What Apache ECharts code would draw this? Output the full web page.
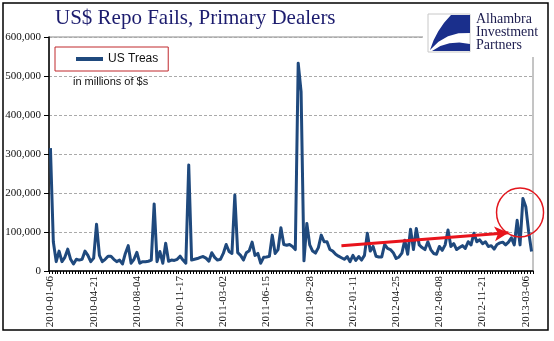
<!DOCTYPE html>
<html>
<head>
<meta charset="utf-8">
<script src="https://cdn.jsdelivr.net/npm/echarts@6/dist/echarts.min.js"></script>
<style>
html,body{margin:0;padding:0;background:#fff;}
#chart{width:554px;height:341px;}
</style>
</head>
<body>
<div id="chart"></div>
<script>
// Weekly observations starting 2010-01-06 (168 weeks)
const firstWeek = '2010-01-06';
const weekCount = 168;
const seriesName = 'US Treas';
const usTreas = [
  315000, 75000, 24000, 51000, 24000, 35000, 56000, 30000, 18000, 30000,
  28000, 30000, 51000, 40000, 24000, 33000, 120000, 40000, 24000, 30000,
  38000, 38000, 30000, 24000, 28000, 18000, 45000, 65000, 20000, 30000,
  48000, 20000, 24000, 24000, 25000, 28000, 172000, 24000, 50000, 20000,
  71000, 25000, 28000, 27000, 30000, 38000, 28000, 20000, 272000, 28000,
  30000, 32000, 35000, 37000, 33000, 25000, 47000, 35000, 28000, 30000,
  45000, 68000, 50000, 45000, 195000, 47000, 40000, 28000, 47000, 52000,
  74000, 40000, 45000, 20000, 35000, 36000, 38000, 92000, 45000, 55000,
  111000, 68000, 66000, 68000, 63000, 55000, 533000, 460000, 26000, 122000,
  67000, 51000, 46000, 60000, 92000, 75000, 75000, 55000, 51000, 43000,
  38000, 34000, 30000, 37000, 24000, 40000, 27000, 37000, 28000, 40000,
  97000, 51000, 63000, 38000, 36000, 36000, 68000, 58000, 55000, 47000,
  32000, 36000, 46000, 79000, 43000, 107000, 55000, 109000, 67000, 60000,
  55000, 75000, 55000, 45000, 43000, 63000, 53000, 67000, 105000, 63000,
  70000, 55000, 60000, 65000, 58000, 75000, 67000, 97000, 75000, 80000,
  70000, 75000, 63000, 65000, 56000, 68000, 72000, 74000, 67000, 74000,
  85000, 67000, 130000, 67000, 186000, 165000, 100000, 50000
];
const yTicks = [0, 100000, 200000, 300000, 400000, 500000, 600000];
const arrowFrom = ['2011-12-14', 65000];
const arrowTo = ['2013-01-23', 98000];
const circleAt = ['2013-02-20', 150000];

const categories = [];
(function(){
  const d0 = new Date(firstWeek + 'T00:00:00Z');
  for (let i = 0; i < weekCount; i++) {
    const d = new Date(d0.getTime() + i * 7 * 86400000);
    categories.push(d.toISOString().slice(0, 10));
  }
})();

const chart = echarts.init(document.getElementById('chart'), null, {renderer: 'canvas'});
const fmt = v => String(v).replace(/\B(?=(\d{3})+(?!\d))/g, ',');

chart.setOption({
  animation: false,
  backgroundColor: '#fff',
  title: {
    text: 'US$ Repo Fails, Primary Dealers',
    left: 50, top: 3,
    textStyle: {fontFamily: 'Liberation Serif', fontSize: 21, fontWeight: 'normal', color: '#1c1c6e'}
  },
  legend: {
    data: [seriesName],
    left: 55, top: 47,
    orient: 'horizontal',
    padding: [6, 10, 6, 21],
    borderColor: '#c0282d', borderWidth: 1,
    icon: 'rect', itemWidth: 27, itemHeight: 4, itemGap: 0,
    textStyle: {fontFamily: 'Liberation Sans', fontSize: 12, color: '#111'}
  },
  grid: {left: 49, top: 37, right: 21, bottom: 70, show: true, borderColor: '#8a8a8a', borderWidth: 1, containLabel: false},
  xAxis: {
    type: 'category', data: categories, boundaryGap: true,
    axisLine: {lineStyle: {color: '#000', width: 1.5}},
    axisTick: {show: true, interval: 0, length: 3, lineStyle: {color: '#000'}},
    axisLabel: {interval: 14, rotate: 90, fontFamily: 'Liberation Serif', fontSize: 11, color: '#111', margin: 5},
    splitLine: {show: false}
  },
  yAxis: {
    type: 'value', min: yTicks[0], max: yTicks[yTicks.length-1], interval: 100000,
    axisLine: {show: true, lineStyle: {color: '#000', width: 1.5}},
    axisTick: {show: true, length: 5, lineStyle: {color: '#000'}},
    axisLabel: {formatter: fmt, fontFamily: 'Liberation Serif', fontSize: 11, color: '#111', margin: 8},
    splitLine: {show: true, lineStyle: {color: '#aaa', type: [3, 2], width: 1}}
  },
  series: [{
    name: seriesName, type: 'line', data: usTreas,
    showSymbol: false, symbol: 'none',
    lineStyle: {color: '#1f497d', width: 3, join: 'round'},
    itemStyle: {color: '#1f497d'},
    markLine: {
      silent: true, symbol: ['none', 'arrow'], symbolSize: [11, 14],
      label: {show: false},
      lineStyle: {color: '#e8141c', width: 3, type: 'solid'},
      data: [[{coord: arrowFrom}, {coord: arrowTo}]]
    },
    markPoint: {
      silent: true,
      symbol: 'circle', symbolSize: [47, 49],
      label: {show: false},
      itemStyle: {color: 'rgba(0,0,0,0)', borderColor: '#e3161d', borderWidth: 1.5},
      data: [{coord: circleAt}]
    }
  }],
  graphic: [
    {type: 'rect', z: 100, shape: {x: 423, y: 6, width: 122, height: 51}, style: {fill: '#fff'}},
    {type: 'rect', z: 101, shape: {x: 428, y: 14, width: 42, height: 38}, style: {fill: '#fff', stroke: '#c8c8c8', lineWidth: 1}},
    {type: 'polygon', z: 102, shape: {points: [[451,15],[470,15],[470,33],[458.5,33.3],[448,36.3],[438.5,41.8],[430,50],[433.6,40.3],[438.3,31.3],[444.1,22.8]]}, style: {fill: '#1a2f8c'}},
    {type: 'polygon', z: 102, shape: {points: [[432,51],[440.4,46.1],[449.5,43.3],[459.4,42.5],[470,44],[470,51]]}, style: {fill: '#1a2f8c'}},
    {type: 'text', z: 103, x: 476, y: 13, style: {text: 'Alhambra\nInvestment\nPartners', font: '14px "Liberation Serif"', lineHeight: 13, fill: '#1c1c4e'}},
    {type: 'text', z: 103, x: 73, y: 76, style: {text: 'in millions of $s', font: '11px "Liberation Sans"', fill: '#111'}},
    {type: 'rect', z: 104, shape: {x: 3, y: 3, width: 545, height: 327}, style: {fill: 'transparent', stroke: '#000', lineWidth: 1.5}}
  ]
});
</script>
</body>
</html>
